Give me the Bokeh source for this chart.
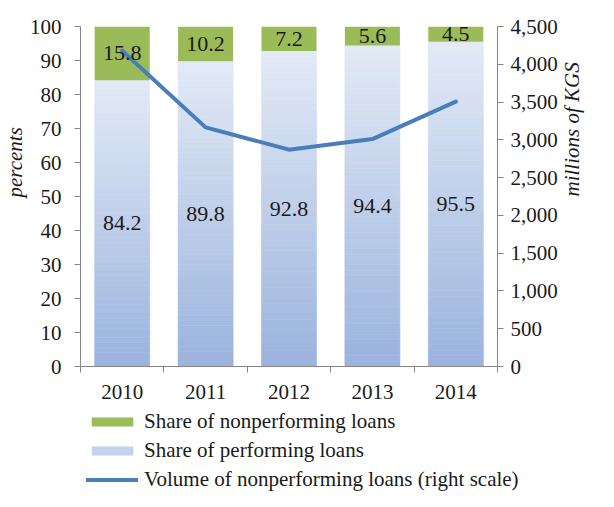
import math
from bokeh.plotting import figure
from bokeh.layouts import column
from bokeh.models import (Range1d, LinearAxis, FixedTicker, NumeralTickFormatter,
                          ColumnDataSource, Legend, LegendItem, Title)
from bokeh.core.properties import value
from bokeh.embed import file_html
from bokeh.resources import INLINE

# ---- data ----
years = ["2010", "2011", "2012", "2013", "2014"]
performing = [84.2, 89.8, 92.8, 94.4, 95.5]
nonperforming = [15.8, 10.2, 7.2, 5.6, 4.5]
npl_volume = [4180, 3165, 2870, 3010, 3505]
left_ticks = [0, 10, 20, 30, 40, 50, 60, 70, 80, 90, 100]
right_ticks = [0, 500, 1000, 1500, 2000, 2500, 3000, 3500, 4000, 4500]
series_names = ["Share of nonperforming loans", "Share of performing loans",
                "Volume of nonperforming loans (right scale)"]

FONT = "Liberation Serif"
TXT = "#1a1a1a"
AX = "#868686"
GREEN = "#9BBB59"
LINE = "#4A7EBB"
TOP_C = (0xE3, 0xEA, 0xF6)
BOT_C = (0x9A, 0xB3, 0xDD)

n = len(years)
xc = [i + 0.5 for i in range(n)]

p = figure(width=598, height=406, output_backend="svg", toolbar_location=None,
           x_range=Range1d(0, n), y_range=Range1d(0, 100),
           min_border_left=80, min_border_right=86, min_border_top=26,
           min_border_bottom=40)
p.extra_y_ranges = {"vol": Range1d(0, 4500)}
p.xgrid.visible = False
p.ygrid.visible = False
p.outline_line_color = None

BW = 0.66
# performing bars: vertical gradient made of stacked slices of each bar
NS = 60
sx, sb, st, sc = [], [], [], []
for i, v in enumerate(performing):
    for k in range(NS):
        f = (k + 0.5) / NS
        c = tuple(int(round(b + (t - b) * f)) for b, t in zip(BOT_C, TOP_C))
        sx.append(xc[i]); sb.append(v * k / NS); st.append(v * (k + 1) / NS)
        sc.append("#%02x%02x%02x" % c)
grad_src = ColumnDataSource(dict(x=sx, bottom=sb, top=st, color=sc))
p.vbar(x="x", bottom="bottom", top="top", width=BW, source=grad_src,
       fill_color="color", line_color="color", line_width=0.6)

npl_src = ColumnDataSource(dict(x=xc, bottom=performing,
                                top=[a + b for a, b in zip(performing, nonperforming)]))
p.vbar(x="x", bottom="bottom", top="top", width=BW, source=npl_src,
       fill_color=GREEN, line_color=None)

p.line(xc, npl_volume, y_range_name="vol", line_color=LINE, line_width=4,
       line_join="round", line_cap="round")

# data labels
lab_src = ColumnDataSource(dict(
    x=xc + xc,
    y=[v / 2 for v in performing] + [a + b / 2 for a, b in zip(performing, nonperforming)],
    t=["%.1f" % v for v in performing] + ["%.1f" % v for v in nonperforming]))
p.text(x="x", y="y", text="t", source=lab_src, text_align="center",
       text_baseline="middle", text_font=value(FONT), text_font_size="22px",
       text_color=TXT)

# x axis: labels at centres, tick marks between categories
xa = p.xaxis[0]
xa.ticker = FixedTicker(ticks=xc, minor_ticks=list(range(n + 1)))
xa.major_label_overrides = {x: y for x, y in zip(xc, years)}
xa.major_tick_out = 0
xa.major_tick_in = 0
xa.minor_tick_out = 6
xa.minor_tick_in = 0
xa.minor_tick_line_color = AX
xa.axis_line_color = AX
xa.major_label_text_font = FONT
xa.major_label_text_font_size = "21px"
xa.major_label_text_color = TXT
xa.major_label_standoff = 12

ya = p.yaxis[0]
ya.ticker = FixedTicker(ticks=left_ticks)
ya.minor_tick_line_color = None
ya.major_tick_out = 6
ya.major_tick_in = 0
ya.major_tick_line_color = AX
ya.axis_line_color = AX
ya.major_label_text_font = FONT
ya.major_label_text_font_size = "21px"
ya.major_label_text_color = TXT
ya.major_label_standoff = 13

ra = LinearAxis(y_range_name="vol", ticker=FixedTicker(ticks=right_ticks),
                formatter=NumeralTickFormatter(format="0,0"))
ra.minor_tick_line_color = None
ra.major_tick_out = 6
ra.major_tick_in = 0
ra.major_tick_line_color = AX
ra.axis_line_color = AX
ra.major_label_text_font = FONT
ra.major_label_text_font_size = "21px"
ra.major_label_text_color = TXT
ra.major_label_standoff = 7
ra.axis_label = "millions of KGS"
ra.axis_label_orientation = math.pi / 2
ra.axis_label_standoff = 11
ra.axis_label_text_font = FONT
ra.axis_label_text_font_size = "21px"
ra.axis_label_text_font_style = "italic"
ra.axis_label_text_color = TXT
p.add_layout(ra, "right")

# left axis title, placed like the reference (above the middle of the axis)
p.add_layout(Title(text="percents", align="left", offset=169, standoff=0,
                   text_font=FONT, text_font_size="21px", text_font_style="italic",
                   text_color=TXT), "left")

# ---- legend in its own strip below the chart ----
lg = figure(width=598, height=85, output_backend="svg", toolbar_location=None,
            x_range=Range1d(0, 1), y_range=Range1d(0, 1),
            x_axis_location=None, y_axis_location=None,
            min_border_left=0, min_border_right=0, min_border_top=0,
            min_border_bottom=0)
for fig in (p, lg):
    try:
        fig.frame_align = False
    except Exception:
        pass
lg.xgrid.visible = False
lg.ygrid.visible = False
lg.outline_line_color = None
nan = float("nan")
r1 = lg.vbar(x=[nan], top=[nan], width=0.5, fill_color=GREEN, line_color=None)
r2 = lg.vbar(x=[nan], top=[nan], width=0.5, fill_color="#C4D2EC", line_color=None)
r3 = lg.line(x=[nan, nan], y=[nan, nan], line_color=LINE, line_width=4,
             line_cap="round")
legend = Legend(items=[LegendItem(label=series_names[0], renderers=[r1]),
                       LegendItem(label=series_names[1], renderers=[r2]),
                       LegendItem(label=series_names[2], renderers=[r3])],
                location=(86, -1), orientation="vertical", padding=0, margin=0,
                spacing=4, glyph_width=52, glyph_height=11, label_height=24,
                label_standoff=6, border_line_color=None, background_fill_alpha=0,
                label_text_font=FONT, label_text_font_size="21px",
                label_text_color=TXT)
lg.add_layout(legend, "center")

layout = column(p, lg, spacing=0)
open("out.html", "w").write(file_html(layout, INLINE))
